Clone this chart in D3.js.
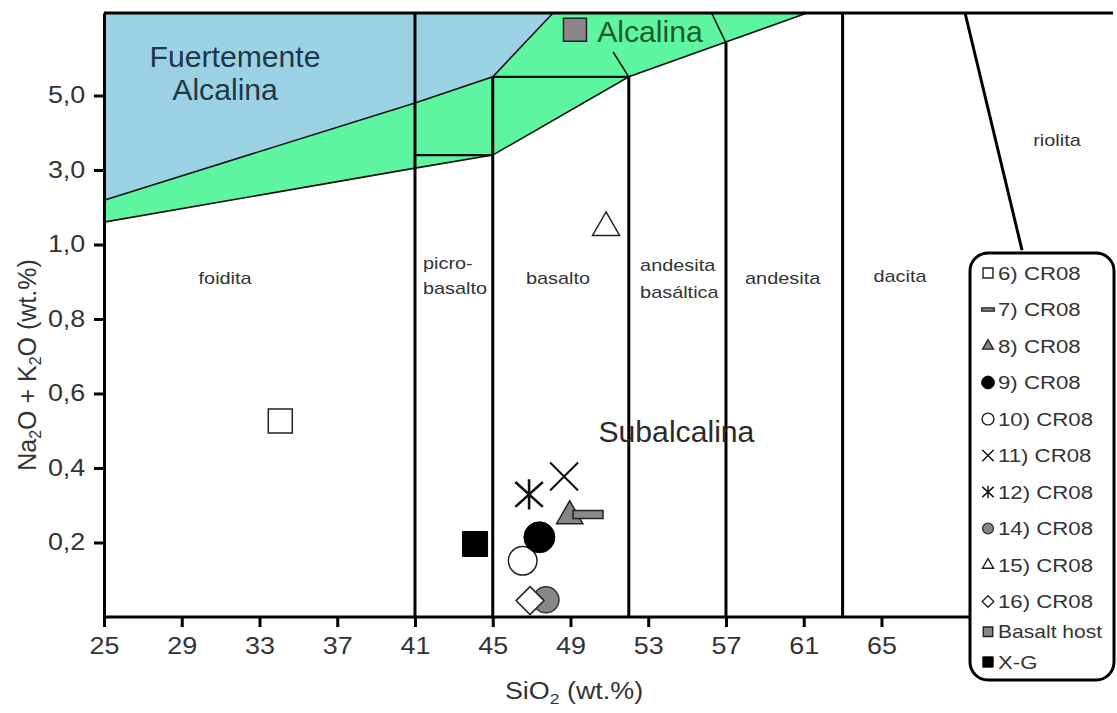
<!DOCTYPE html>
<html lang="es">
<head>
  <meta charset="UTF-8">
  <title>TAS - SiO2 vs Na2O + K2O</title>
  <script src="https://d3js.org/d3.v7.min.js"></script>
  <style>
    body { margin: 0; background: #fff; }
    svg { display: block; font-family: "Liberation Sans", Arial, sans-serif; }
  </style>
</head>
<body>
  <svg width="1117" height="713"></svg>

  <script>
    // ---- data ----
    const sio2Ticks = [25, 29, 33, 37, 41, 45, 49, 53, 57, 61, 65];
    const alkaliTicks = [0.2, 0.4, 0.6, 0.8, 1.0, 3.0, 5.0];

    const seriesNames = ["6) CR08", "7) CR08", "8) CR08", "9) CR08", "10) CR08", "11) CR08",
                         "12) CR08", "14) CR08", "15) CR08", "16) CR08", "Basalt host", "X-G"];
    const sio2   = [34.07, 49.90, 48.96, 47.40, 46.54, 48.67, 46.87, 47.74, 50.83, 46.92, 49.23, 44.09];
    const alkali = [0.526, 0.275, 0.271, 0.214, 0.151, 0.377, 0.329, 0.046, 1.454, 0.044, 6.76, 0.196];
    // order in which the marks are stacked in the picture
    const drawOrder = ["6) CR08", "X-G", "8) CR08", "7) CR08", "10) CR08", "9) CR08", "11) CR08",
                       "12) CR08", "14) CR08", "16) CR08", "15) CR08", "Basalt host"];

    // fields: [SiO2, Na2O+K2O]
    const fieldStrong = [[25, 7.21], [48.10, 7.21], [45, 5.50], [41, 4.80], [25, 2.19]];
    const fieldAlkaline = [[25, 2.19], [41, 4.80], [45, 5.50], [48.10, 7.21], [61.17, 7.21],
                           [52, 5.50], [45, 3.40], [41, 3.05], [25, 1.60]];
    const thinLines = [
      [[25, 2.19], [41, 4.80], [45, 5.50], [48.10, 7.21]],
      [[25, 1.60], [41, 3.05], [45, 3.40], [52, 5.50], [61.17, 7.21]],
      [[52, 5.50], [51.19, 6.17]],
      [[57, 6.41], [56.26, 7.21]]
    ];
    const midLines = [
      [[41, 3.40], [45, 3.40]],
      [[45, 5.50], [52, 5.50]]
    ];
    const thickLines = [
      [[41, 7.21], [41, 0]],
      [[45, 5.50], [45, 0]],
      [[52, 5.50], [52, 0]],
      [[57, 6.41], [57, 0]],
      [[63, 7.21], [63, 0]],
      [[69.30, 7.21], [72.23, 0.985]]
    ];

    const smallLabels = [
      {text: "foidita", at: [31.23, 0.910], anchor: "middle"},
      {text: "picro-", at: [41.41, 0.950], anchor: "start"},
      {text: "basalto", at: [41.41, 0.883], anchor: "start"},
      {text: "basalto", at: [48.36, 0.910], anchor: "middle"},
      {text: "andesita", at: [52.58, 0.945], anchor: "start"},
      {text: "basáltica", at: [52.58, 0.872], anchor: "start"},
      {text: "andesita", at: [57.98, 0.910], anchor: "start"},
      {text: "dacita", at: [65.95, 0.915], anchor: "middle"},
      {text: "riolita", at: [74.03, 3.81], anchor: "middle"}
    ];
    const bigLabels = [
      {text: "Fuertemente", at: [31.74, 6.03], color: "#1f3747"},
      {text: "Alcalina", at: [31.23, 5.17], color: "#1f3747"},
      {text: "Alcalina", at: [53.09, 6.70], color: "#1b5a2c"},
      {text: "Subalcalina", at: [54.45, 0.499], color: "#2a2a2a"}
    ];

    // ---- setup ----
    const svg = d3.select("svg");
    const W = +svg.attr("width");
    const stretch = 1.17;   // the original picture is a bit wide

    const x = d3.scaleLinear().domain([25, 69.4]).range([104, 967]);
    const y = d3.scaleLinear().domain([0, 1, 5, 7.21]).range([617, 244.5, 95.5, 13]);
    const line = d3.line().x(d => x(d[0])).y(d => y(d[1]));

    // fields
    svg.append("path").attr("d", line(fieldStrong) + "Z").attr("fill", "#9ad2e3");
    svg.append("path").attr("d", line(fieldAlkaline) + "Z").attr("fill", "#5ef5a0");

    svg.selectAll(".thin").data(thinLines).join("path")
      .attr("d", line).attr("fill", "none").attr("stroke", "#111").attr("stroke-width", 1.6);
    svg.selectAll(".mid").data(midLines).join("path")
      .attr("d", line).attr("fill", "none").attr("stroke", "#111").attr("stroke-width", 2.4);
    svg.selectAll(".thick").data(thickLines).join("path")
      .attr("d", line).attr("fill", "none").attr("stroke", "#000").attr("stroke-width", 3);

    // frame top
    svg.append("line")
      .attr("x1", x.range()[0]).attr("x2", W - 4)
      .attr("y1", y.range()[3]).attr("y2", y.range()[3])
      .attr("stroke", "#000").attr("stroke-width", 3);

    // axes
    const xAxis = svg.append("g")
      .attr("transform", `translate(0,${y(0)})`)
      .call(d3.axisBottom(x).tickValues(sio2Ticks).tickSize(10).tickPadding(11).tickSizeOuter(0));
    const yAxis = svg.append("g")
      .attr("transform", `translate(${x(25)},0)`)
      .call(d3.axisLeft(y).tickValues(alkaliTicks).tickSize(10).tickPadding(6).tickSizeOuter(0)
        .tickFormat(d => d.toFixed(1).replace(".", ",")));

    [xAxis, yAxis].forEach(a => {
      a.select(".domain").attr("stroke-width", 3);
      a.selectAll(".tick line").attr("stroke-width", 3);
      a.selectAll(".tick text")
        .attr("font-size", 23).attr("fill", "#333")
        .attr("font-family", "Liberation Sans, Arial, sans-serif")
        .attr("transform", `scale(${stretch},1)`);
    });
    // bottom axis runs on to the legend box
    xAxis.select(".domain").attr("d", `M${x(25)},0H970`);

    // axis titles
    const xt = svg.append("text")
      .attr("transform", `translate(574,699) scale(${stretch},1)`)
      .attr("text-anchor", "middle").attr("font-size", 23).attr("fill", "#333");
    xt.append("tspan").text("SiO");
    xt.append("tspan").attr("font-size", 15).attr("dy", 5).text("2");
    xt.append("tspan").attr("dy", -5).text(" (wt.%)");

    const yt = svg.append("text")
      .attr("transform", "translate(36,365) rotate(-90)")
      .attr("text-anchor", "middle").attr("font-size", 25).attr("fill", "#333");
    yt.append("tspan").text("Na");
    yt.append("tspan").attr("font-size", 16).attr("dy", 5).text("2");
    yt.append("tspan").attr("dy", -5).text("O + K");
    yt.append("tspan").attr("font-size", 16).attr("dy", 5).text("2");
    yt.append("tspan").attr("dy", -5).text("O (wt.%)");

    // field labels
    svg.selectAll(".small-label").data(smallLabels).join("text")
      .attr("transform", d => `translate(${x(d.at[0])},${y(d.at[1])}) scale(${stretch},1)`)
      .attr("dy", "0.35em").attr("text-anchor", d => d.anchor)
      .attr("font-size", 17).attr("fill", "#333").text(d => d.text);

    svg.selectAll(".big-label").data(bigLabels).join("text")
      .attr("transform", d => `translate(${x(d.at[0])},${y(d.at[1])}) scale(1.04,1)`)
      .attr("dy", "0.36em").attr("text-anchor", "middle")
      .attr("font-size", 29).attr("fill", d => d.color).text(d => d.text);

    // ---- symbols ----
    const symX = { draw(c, s) { const r = Math.sqrt(s) / 2;
      c.moveTo(-r, -r); c.lineTo(r, r); c.moveTo(-r, r); c.lineTo(r, -r); } };
    const symStar = { draw(c, s) { const r = Math.sqrt(s) / 2;
      c.moveTo(-r, -r * 0.9); c.lineTo(r, r * 0.9); c.moveTo(-r, r * 0.9); c.lineTo(r, -r * 0.9);
      c.moveTo(0, -r * 1.1); c.lineTo(0, r * 1.1); } };
    const symBar = { draw(c, s) { const w = Math.sqrt(s) / 2, h = w * 0.27;
      c.moveTo(-w, -h); c.lineTo(w, -h); c.lineTo(w, h); c.lineTo(-w, h); c.closePath(); } };
    const symDiamond = { draw(c, s) { const r = Math.sqrt(s) / 2;
      c.moveTo(0, -r); c.lineTo(r, 0); c.lineTo(0, r); c.lineTo(-r, 0); c.closePath(); } };

    const markStyle = {
      "6) CR08":    {type: d3.symbolSquare,   size: 576, fill: "#fff",    stroke: "#222", sw: 1.5},
      "7) CR08":    {type: symBar,            size: 900, fill: "#8a8a8a", stroke: "#222", sw: 1.5},
      "8) CR08":    {type: d3.symbolTriangle, size: 300, fill: "#858585", stroke: "#222", sw: 1.5},
      "9) CR08":    {type: d3.symbolCircle,   size: 755, fill: "#000",    stroke: "#000", sw: 1},
      "10) CR08":   {type: d3.symbolCircle,   size: 642, fill: "#fff",    stroke: "#222", sw: 1.5},
      "11) CR08":   {type: symX,              size: 784, fill: "none",    stroke: "#111", sw: 2},
      "12) CR08":   {type: symStar,           size: 760, fill: "none",    stroke: "#111", sw: 2.6},
      "14) CR08":   {type: d3.symbolCircle,   size: 531, fill: "#878787", stroke: "#333", sw: 1.5},
      "15) CR08":   {type: d3.symbolTriangle, size: 316, fill: "#fff",    stroke: "#222", sw: 1.5},
      "16) CR08":   {type: symDiamond,        size: 784, fill: "#fff",    stroke: "#222", sw: 1.5},
      "Basalt host":{type: d3.symbolSquare,   size: 529, fill: "#8a868c", stroke: "#222", sw: 1.5},
      "X-G":        {type: d3.symbolSquare,   size: 625, fill: "#000",    stroke: "#000", sw: 1}
    };

    const points = seriesNames.map((name, i) => ({name, sio2: sio2[i], alkali: alkali[i]}))
      .sort((a, b) => drawOrder.indexOf(a.name) - drawOrder.indexOf(b.name));

    svg.append("g").selectAll("path").data(points).join("path")
      .attr("transform", d => `translate(${x(d.sio2)},${y(d.alkali)})`)
      .attr("d", d => d3.symbol().type(markStyle[d.name].type).size(markStyle[d.name].size)())
      .attr("fill", d => markStyle[d.name].fill)
      .attr("stroke", d => markStyle[d.name].stroke)
      .attr("stroke-width", d => markStyle[d.name].sw);

    // ---- legend ----
    const legend = svg.append("g");
    legend.append("rect")
      .attr("x", 970).attr("y", 253).attr("width", 144).attr("height", 427)
      .attr("rx", 18).attr("fill", "#fff").attr("stroke", "#000").attr("stroke-width", 3);

    const rowY = d3.scaleLinear().domain([0, 9, 11]).range([273, 601.5, 662]);
    const rows = legend.selectAll(".row").data(seriesNames).join("g")
      .attr("transform", (d, i) => `translate(988,${rowY(i)})`);
    rows.append("path")
      .attr("d", d => d3.symbol().type(markStyle[d].type).size(markStyle[d].size * 0.17)())
      .attr("fill", d => markStyle[d].fill)
      .attr("stroke", d => markStyle[d].stroke)
      .attr("stroke-width", d => Math.min(markStyle[d].sw, 1.4));
    rows.append("text")
      .attr("transform", `translate(10,0) scale(${stretch},1)`)
      .attr("dy", "0.35em").attr("font-size", d => d === "Basalt host" ? 18 : 19)
      .attr("fill", "#333").text(d => d);
  </script>
</body>
</html>
